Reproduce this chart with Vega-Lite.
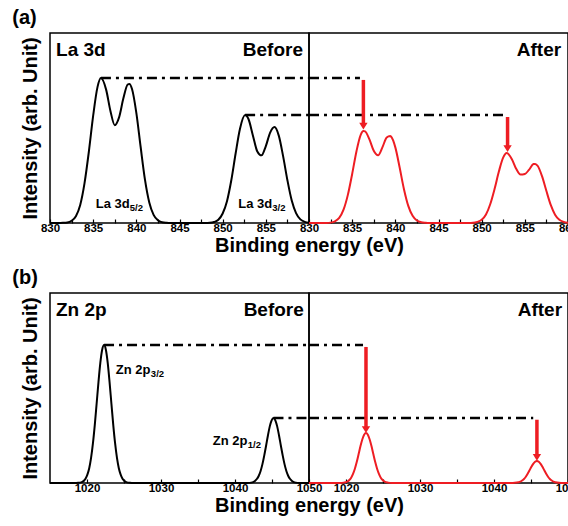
{
  "$schema": "https://vega.github.io/schema/vega-lite/v6.json",
  "padding": {"left": 12, "top": 8, "right": 0, "bottom": 5},
  "background": "white",
  "config": {
    "view": {"stroke": "black", "strokeWidth": 1.5},
    "font": "Liberation Sans",
    "axis": {"grid": false, "domain": false, "labelFont": "Liberation Sans", "labelFontWeight": "bold", "labelFontSize": 11.5, "labelColor": "black", "tickColor": "black", "tickWidth": 1.2, "tickSize": -4, "labelPadding": 3, "labelFlush": false, "labelOverlap": false, "titleFont": "Liberation Sans", "titleFontWeight": "bold", "titleFontSize": 20, "titleColor": "black"},
    "title": {"font": "Liberation Sans", "fontSize": 20, "fontWeight": "bold", "color": "black", "anchor": "start", "offset": 4},
    "text": {"font": "Liberation Sans", "fontWeight": "bold", "color": "black"}
  },
  "datasets": {
    "la_before": [
      {"x": 830, "y": 0}, {"x": 831, "y": 0}, {"x": 831.5, "y": 0.001}, {"x": 832, "y": 0.003}, {"x": 832.5, "y": 0.012}, {"x": 833, "y": 0.036}, {"x": 833.5, "y": 0.095}, {"x": 834, "y": 0.21}, {"x": 834.5, "y": 0.375}, {"x": 835, "y": 0.565}, {"x": 835.5, "y": 0.715}, {"x": 835.9, "y": 0.763}, {"x": 836.5, "y": 0.702}, {"x": 837, "y": 0.59}, {"x": 837.5, "y": 0.515}, {"x": 838, "y": 0.556}, {"x": 838.5, "y": 0.656}, {"x": 839, "y": 0.729}, {"x": 839.2, "y": 0.732}, {"x": 839.5, "y": 0.705}, {"x": 840, "y": 0.58}, {"x": 840.5, "y": 0.4}, {"x": 841, "y": 0.228}, {"x": 841.5, "y": 0.108}, {"x": 842, "y": 0.043}, {"x": 842.5, "y": 0.014}, {"x": 843, "y": 0.004}, {"x": 843.5, "y": 0.001}, {"x": 844, "y": 0},
      {"x": 848, "y": 0}, {"x": 848.5, "y": 0.001}, {"x": 849, "y": 0.005}, {"x": 849.5, "y": 0.017}, {"x": 850, "y": 0.05}, {"x": 850.5, "y": 0.115}, {"x": 851, "y": 0.225}, {"x": 851.5, "y": 0.366}, {"x": 852, "y": 0.495}, {"x": 852.6, "y": 0.568}, {"x": 853, "y": 0.546}, {"x": 853.5, "y": 0.461}, {"x": 854, "y": 0.378}, {"x": 854.5, "y": 0.356}, {"x": 855, "y": 0.405}, {"x": 855.5, "y": 0.476}, {"x": 856, "y": 0.505}, {"x": 856.5, "y": 0.46}, {"x": 857, "y": 0.352}, {"x": 857.5, "y": 0.225}, {"x": 858, "y": 0.118}, {"x": 858.5, "y": 0.052}, {"x": 859, "y": 0.019}, {"x": 859.5, "y": 0.006}, {"x": 860, "y": 0.001}
    ],
    "la_after": [
      {"x": 830, "y": 0}, {"x": 832, "y": 0}, {"x": 832.5, "y": 0.002}, {"x": 833, "y": 0.009}, {"x": 833.5, "y": 0.027}, {"x": 834, "y": 0.07}, {"x": 834.5, "y": 0.148}, {"x": 835, "y": 0.258}, {"x": 835.5, "y": 0.378}, {"x": 836, "y": 0.465}, {"x": 836.3, "y": 0.484}, {"x": 836.5, "y": 0.482}, {"x": 837, "y": 0.44}, {"x": 837.5, "y": 0.38}, {"x": 838, "y": 0.356}, {"x": 838.5, "y": 0.398}, {"x": 839, "y": 0.45}, {"x": 839.4, "y": 0.458}, {"x": 839.5, "y": 0.455}, {"x": 840, "y": 0.398}, {"x": 840.5, "y": 0.292}, {"x": 841, "y": 0.178}, {"x": 841.5, "y": 0.09}, {"x": 842, "y": 0.038}, {"x": 842.5, "y": 0.013}, {"x": 843, "y": 0.004}, {"x": 843.5, "y": 0.001}, {"x": 844, "y": 0},
      {"x": 848.5, "y": 0}, {"x": 849, "y": 0.001}, {"x": 849.5, "y": 0.006}, {"x": 850, "y": 0.017}, {"x": 850.5, "y": 0.045}, {"x": 851, "y": 0.1}, {"x": 851.5, "y": 0.18}, {"x": 852, "y": 0.272}, {"x": 852.5, "y": 0.345}, {"x": 852.9, "y": 0.368}, {"x": 853.5, "y": 0.336}, {"x": 854, "y": 0.285}, {"x": 854.5, "y": 0.255}, {"x": 855, "y": 0.258}, {"x": 855.5, "y": 0.281}, {"x": 856, "y": 0.31}, {"x": 856.2, "y": 0.311}, {"x": 856.5, "y": 0.3}, {"x": 857, "y": 0.245}, {"x": 857.5, "y": 0.168}, {"x": 858, "y": 0.095}, {"x": 858.5, "y": 0.044}, {"x": 859, "y": 0.017}, {"x": 859.5, "y": 0.006}, {"x": 860, "y": 0.001}
    ],
    "zn_before": [
      {"x": 1015, "y": 0}, {"x": 1018.3, "y": 0}, {"x": 1018.8, "y": 0.001}, {"x": 1019.3, "y": 0.005}, {"x": 1019.8, "y": 0.023}, {"x": 1020.05, "y": 0.044}, {"x": 1020.3, "y": 0.078}, {"x": 1020.55, "y": 0.132}, {"x": 1020.8, "y": 0.208}, {"x": 1021.05, "y": 0.305}, {"x": 1021.3, "y": 0.417}, {"x": 1021.55, "y": 0.531}, {"x": 1021.8, "y": 0.632}, {"x": 1022.05, "y": 0.701}, {"x": 1022.3, "y": 0.726}, {"x": 1022.55, "y": 0.701}, {"x": 1022.8, "y": 0.632}, {"x": 1023.05, "y": 0.531}, {"x": 1023.3, "y": 0.417}, {"x": 1023.55, "y": 0.305}, {"x": 1023.8, "y": 0.208}, {"x": 1024.05, "y": 0.132}, {"x": 1024.3, "y": 0.078}, {"x": 1024.55, "y": 0.044}, {"x": 1024.8, "y": 0.023}, {"x": 1025.3, "y": 0.005}, {"x": 1025.8, "y": 0.001}, {"x": 1026.3, "y": 0},
      {"x": 1041.7, "y": 0}, {"x": 1042.2, "y": 0.002}, {"x": 1042.7, "y": 0.011}, {"x": 1042.95, "y": 0.021}, {"x": 1043.2, "y": 0.037}, {"x": 1043.45, "y": 0.062}, {"x": 1043.7, "y": 0.098}, {"x": 1043.95, "y": 0.144}, {"x": 1044.2, "y": 0.196}, {"x": 1044.45, "y": 0.25}, {"x": 1044.7, "y": 0.298}, {"x": 1044.95, "y": 0.33}, {"x": 1045.2, "y": 0.342}, {"x": 1045.45, "y": 0.33}, {"x": 1045.7, "y": 0.298}, {"x": 1045.95, "y": 0.25}, {"x": 1046.2, "y": 0.196}, {"x": 1046.45, "y": 0.144}, {"x": 1046.7, "y": 0.098}, {"x": 1046.95, "y": 0.062}, {"x": 1047.2, "y": 0.037}, {"x": 1047.45, "y": 0.021}, {"x": 1047.7, "y": 0.011}, {"x": 1048.2, "y": 0.002}, {"x": 1048.7, "y": 0}, {"x": 1050, "y": 0}
    ],
    "zn_after": [
      {"x": 1015, "y": 0}, {"x": 1019.2, "y": 0}, {"x": 1019.7, "y": 0.002}, {"x": 1020.2, "y": 0.008}, {"x": 1020.45, "y": 0.016}, {"x": 1020.7, "y": 0.028}, {"x": 1020.95, "y": 0.048}, {"x": 1021.2, "y": 0.075}, {"x": 1021.45, "y": 0.11}, {"x": 1021.7, "y": 0.151}, {"x": 1021.95, "y": 0.193}, {"x": 1022.2, "y": 0.229}, {"x": 1022.45, "y": 0.254}, {"x": 1022.7, "y": 0.263}, {"x": 1022.95, "y": 0.254}, {"x": 1023.2, "y": 0.229}, {"x": 1023.45, "y": 0.193}, {"x": 1023.7, "y": 0.151}, {"x": 1023.95, "y": 0.11}, {"x": 1024.2, "y": 0.075}, {"x": 1024.45, "y": 0.048}, {"x": 1024.7, "y": 0.028}, {"x": 1024.95, "y": 0.016}, {"x": 1025.2, "y": 0.008}, {"x": 1025.7, "y": 0.002}, {"x": 1026.2, "y": 0},
      {"x": 1042.3, "y": 0}, {"x": 1042.8, "y": 0.001}, {"x": 1043.3, "y": 0.004}, {"x": 1043.55, "y": 0.007}, {"x": 1043.8, "y": 0.013}, {"x": 1044.05, "y": 0.021}, {"x": 1044.3, "y": 0.033}, {"x": 1044.55, "y": 0.049}, {"x": 1044.8, "y": 0.067}, {"x": 1045.05, "y": 0.085}, {"x": 1045.3, "y": 0.101}, {"x": 1045.55, "y": 0.112}, {"x": 1045.8, "y": 0.116}, {"x": 1046.05, "y": 0.112}, {"x": 1046.3, "y": 0.101}, {"x": 1046.55, "y": 0.085}, {"x": 1046.8, "y": 0.067}, {"x": 1047.05, "y": 0.049}, {"x": 1047.3, "y": 0.033}, {"x": 1047.55, "y": 0.021}, {"x": 1047.8, "y": 0.013}, {"x": 1048.05, "y": 0.007}, {"x": 1048.3, "y": 0.004}, {"x": 1048.8, "y": 0.001}, {"x": 1049.3, "y": 0}, {"x": 1050, "y": 0}
    ],
    "guides": [
      {"panel": "a_before", "x": 835.9, "x2": 860, "y": 0.763},
      {"panel": "a_before", "x": 852.6, "x2": 860, "y": 0.568},
      {"panel": "a_after", "x": 830, "x2": 835.9, "y": 0.763},
      {"panel": "a_after", "x": 830, "x2": 852.6, "y": 0.568},
      {"panel": "b_before", "x": 1022.3, "x2": 1050, "y": 0.726},
      {"panel": "b_before", "x": 1045.2, "x2": 1050, "y": 0.342},
      {"panel": "b_after", "x": 1015, "x2": 1022.3, "y": 0.726},
      {"panel": "b_after", "x": 1015, "x2": 1045.3, "y": 0.342}
    ],
    "arrows": [
      {"panel": "a_after", "x": 836.3, "y": 0.492, "y2": 0.753},
      {"panel": "a_after", "x": 853.0, "y": 0.374, "y2": 0.558},
      {"panel": "b_after", "x": 1022.7, "y": 0.263, "y2": 0.716},
      {"panel": "b_after", "x": 1045.8, "y": 0.117, "y2": 0.333}
    ],
    "corner": [
      {"panel": "a_before", "x": 830.7, "y": 0.88, "text": "La 3d"},
      {"panel": "a_before", "x": 859.3, "y": 0.88, "text": "Before"},
      {"panel": "a_after", "x": 859.2, "y": 0.88, "text": "After"},
      {"panel": "b_before", "x": 1015.8, "y": 0.88, "text": "Zn 2p"},
      {"panel": "b_before", "x": 1049.3, "y": 0.88, "text": "Before"},
      {"panel": "b_after", "x": 1049.2, "y": 0.88, "text": "After"}
    ],
    "peaks": [
      {"panel": "a_before", "x": 835.3, "y": 0.079, "main": "La 3d", "sub": "5/2"},
      {"panel": "a_before", "x": 851.8, "y": 0.079, "main": "La 3d", "sub": "3/2"},
      {"panel": "b_before", "x": 1023.9, "y": 0.574, "main": "Zn 2p", "sub": "3/2"},
      {"panel": "b_before", "x": 1037.0, "y": 0.2, "main": "Zn 2p", "sub": "1/2"}
    ]
  },
  "spacing": 11,
  "vconcat": [
    {
      "title": {"text": "(a)", "dx": -7},
      "bounds": "flush",
      "spacing": 0,
      "hconcat": [
        {
          "width": 259, "height": 190,
          "encoding": {
            "x": {"field": "x", "type": "quantitative", "scale": {"domain": [830, 860], "nice": false, "zero": false},
                  "axis": {"values": [830, 832.5, 835, 837.5, 840, 842.5, 845, 847.5, 850, 852.5, 855, 857.5], "format": "d", "labelExpr": "datum.value % 5 === 0 ? datum.label : ''", "title": "Binding energy (eV)", "titleX": 259, "titleAlign": "center", "titlePadding": 2}},
            "y": {"field": "y", "type": "quantitative", "scale": {"domain": [0, 1], "nice": false},
                  "axis": {"title": "Intensity (arb. Unit)", "labels": false, "ticks": false, "titlePadding": 10}}
          },
          "layer": [
            {"data": {"name": "la_before"}, "mark": {"type": "line", "color": "black", "strokeWidth": 2, "interpolate": "monotone"}},
            {"data": {"name": "guides"}, "transform": [{"filter": "datum.panel === 'a_before'"}], "mark": {"type": "rule", "color": "black", "strokeWidth": 2.5, "strokeDash": [10, 5, 3, 5]}, "encoding": {"x2": {"field": "x2"}}},
            {"data": {"name": "corner"}, "transform": [{"filter": "datum.panel === 'a_before' && datum.text !== 'Before'"}], "mark": {"type": "text", "align": "left", "baseline": "alphabetic", "fontSize": 19}, "encoding": {"text": {"field": "text"}}},
            {"data": {"name": "corner"}, "transform": [{"filter": "datum.panel === 'a_before' && datum.text === 'Before'"}], "mark": {"type": "text", "align": "right", "baseline": "alphabetic", "fontSize": 19}, "encoding": {"text": {"field": "text"}}},
            {"data": {"name": "peaks"}, "transform": [{"filter": "datum.panel === 'a_before'"}], "mark": {"type": "text", "align": "left", "baseline": "alphabetic", "fontSize": 13}, "encoding": {"text": {"field": "main"}}},
            {"data": {"name": "peaks"}, "transform": [{"filter": "datum.panel === 'a_before'"}], "mark": {"type": "text", "align": "left", "baseline": "alphabetic", "fontSize": 9.5, "dx": 34, "dy": 3}, "encoding": {"text": {"field": "sub"}}}
          ]
        },
        {
          "width": 259, "height": 190,
          "encoding": {
            "x": {"field": "x", "type": "quantitative", "scale": {"domain": [830, 860], "nice": false, "zero": false},
                  "axis": {"values": [830, 832.5, 835, 837.5, 840, 842.5, 845, 847.5, 850, 852.5, 855, 857.5, 860], "format": "d", "labelExpr": "datum.value % 5 === 0 ? datum.label : ''", "title": null}},
            "y": {"field": "y", "type": "quantitative", "scale": {"domain": [0, 1], "nice": false}, "axis": null}
          },
          "layer": [
            {"data": {"name": "la_after"}, "mark": {"type": "line", "color": "#ee1d23", "strokeWidth": 2, "interpolate": "monotone"}},
            {"data": {"name": "guides"}, "transform": [{"filter": "datum.panel === 'a_after'"}], "mark": {"type": "rule", "color": "black", "strokeWidth": 2.5, "strokeDash": [10, 5, 3, 5]}, "encoding": {"x2": {"field": "x2"}}},
            {"data": {"name": "arrows"}, "transform": [{"filter": "datum.panel === 'a_after'"}], "mark": {"type": "rule", "color": "#ee1d23", "strokeWidth": 3.5, "yOffset": -5}, "encoding": {"y2": {"field": "y2"}}},
            {"data": {"name": "arrows"}, "transform": [{"filter": "datum.panel === 'a_after'"}], "mark": {"type": "point", "shape": "M0,0L-1,-1.6L1,-1.6Z", "filled": true, "color": "#ee1d23", "opacity": 1, "size": 70}},
            {"data": {"name": "corner"}, "transform": [{"filter": "datum.panel === 'a_after'"}], "mark": {"type": "text", "align": "right", "baseline": "alphabetic", "fontSize": 19}, "encoding": {"text": {"field": "text"}}}
          ]
        }
      ]
    },
    {
      "title": {"text": "(b)", "dx": -7},
      "bounds": "flush",
      "spacing": 0,
      "hconcat": [
        {
          "width": 259, "height": 190,
          "encoding": {
            "x": {"field": "x", "type": "quantitative", "scale": {"domain": [1015, 1050], "nice": false, "zero": false},
                  "axis": {"values": [1020, 1025, 1030, 1035, 1040, 1045, 1050], "format": "d", "labelExpr": "datum.value % 10 === 0 ? datum.label : ''", "title": "Binding energy (eV)", "titleX": 259, "titleAlign": "center", "titlePadding": 2}},
            "y": {"field": "y", "type": "quantitative", "scale": {"domain": [0, 1], "nice": false},
                  "axis": {"title": "Intensity (arb. Unit)", "labels": false, "ticks": false, "titlePadding": 10}}
          },
          "layer": [
            {"data": {"name": "zn_before"}, "mark": {"type": "line", "color": "black", "strokeWidth": 2, "interpolate": "monotone"}},
            {"data": {"name": "guides"}, "transform": [{"filter": "datum.panel === 'b_before'"}], "mark": {"type": "rule", "color": "black", "strokeWidth": 2.5, "strokeDash": [10, 5, 3, 5]}, "encoding": {"x2": {"field": "x2"}}},
            {"data": {"name": "corner"}, "transform": [{"filter": "datum.panel === 'b_before' && datum.text !== 'Before'"}], "mark": {"type": "text", "align": "left", "baseline": "alphabetic", "fontSize": 19}, "encoding": {"text": {"field": "text"}}},
            {"data": {"name": "corner"}, "transform": [{"filter": "datum.panel === 'b_before' && datum.text === 'Before'"}], "mark": {"type": "text", "align": "right", "baseline": "alphabetic", "fontSize": 19}, "encoding": {"text": {"field": "text"}}},
            {"data": {"name": "peaks"}, "transform": [{"filter": "datum.panel === 'b_before'"}], "mark": {"type": "text", "align": "left", "baseline": "alphabetic", "fontSize": 13}, "encoding": {"text": {"field": "main"}}},
            {"data": {"name": "peaks"}, "transform": [{"filter": "datum.panel === 'b_before'"}], "mark": {"type": "text", "align": "left", "baseline": "alphabetic", "fontSize": 9.5, "dx": 35, "dy": 3}, "encoding": {"text": {"field": "sub"}}}
          ]
        },
        {
          "width": 259, "height": 190,
          "encoding": {
            "x": {"field": "x", "type": "quantitative", "scale": {"domain": [1015, 1050], "nice": false, "zero": false},
                  "axis": {"values": [1020, 1025, 1030, 1035, 1040, 1045, 1050], "format": "d", "labelExpr": "datum.value % 10 === 0 ? datum.label : ''", "title": null}},
            "y": {"field": "y", "type": "quantitative", "scale": {"domain": [0, 1], "nice": false}, "axis": null}
          },
          "layer": [
            {"data": {"name": "zn_after"}, "mark": {"type": "line", "color": "#ee1d23", "strokeWidth": 2, "interpolate": "monotone"}},
            {"data": {"name": "guides"}, "transform": [{"filter": "datum.panel === 'b_after'"}], "mark": {"type": "rule", "color": "black", "strokeWidth": 2.5, "strokeDash": [10, 5, 3, 5]}, "encoding": {"x2": {"field": "x2"}}},
            {"data": {"name": "arrows"}, "transform": [{"filter": "datum.panel === 'b_after'"}], "mark": {"type": "rule", "color": "#ee1d23", "strokeWidth": 3.5, "yOffset": -5}, "encoding": {"y2": {"field": "y2"}}},
            {"data": {"name": "arrows"}, "transform": [{"filter": "datum.panel === 'b_after'"}], "mark": {"type": "point", "shape": "M0,0L-1,-1.6L1,-1.6Z", "filled": true, "color": "#ee1d23", "opacity": 1, "size": 70}},
            {"data": {"name": "corner"}, "transform": [{"filter": "datum.panel === 'b_after'"}], "mark": {"type": "text", "align": "right", "baseline": "alphabetic", "fontSize": 19}, "encoding": {"text": {"field": "text"}}}
          ]
        }
      ]
    }
  ]
}
